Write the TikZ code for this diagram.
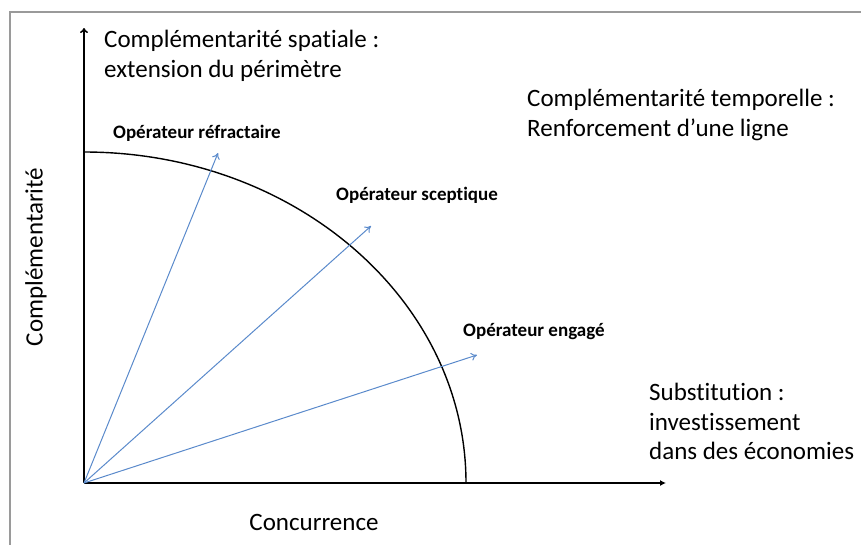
\documentclass[tikz,border=0pt]{standalone}
\usepackage{fontspec}
\setmainfont{Carlito}[Ligatures=NoCommon]
\usetikzlibrary{arrows.meta}
\definecolor{opblue}{HTML}{5A8ACB}
\definecolor{framegray}{HTML}{9A9A9A}
\tikzset{
  bigtext/.style={font=\fontsize{25}{29.5}\selectfont, inner sep=0pt, align=left},
  optext/.style={font=\bfseries\fontsize{19}{22}\selectfont, inner sep=0pt},
  oparrow/.style={draw=opblue, line width=1pt, -{To[length=6pt,width=8pt]}},
  axis/.style={draw=black, line width=1.6pt}
}
\begin{document}
\begin{tikzpicture}[x=1pt,y=-1pt]
\useasboundingbox (0,0) rectangle (861,544);
% frame
\draw[framegray, line width=2pt] (10,546) -- (10,12) -- (863,12);
% origin and ends
\coordinate (O) at (84,483);
\coordinate (ytop) at (84,28);
\coordinate (xend) at (666,483);
\coordinate (arcstart) at (84,152);
\coordinate (ref) at (218,153);
\coordinate (sce) at (371,226);
\coordinate (eng) at (477,355);
% axes
\draw[axis, -{To[length=5pt,width=8pt]}] (O) -- (ytop);
\draw[axis, -{Latex[length=6pt,width=6pt]}] (O) -- (xend);
% arc
\draw[black, line width=1.4pt] (arcstart) arc[start angle=-90, end angle=0, x radius=382, y radius=331];
% operator arrows
\draw[oparrow] (O) -- (ref);
\draw[oparrow] (O) -- (sce);
\draw[oparrow] (O) -- (eng);
% labels
\node[optext, anchor=west] (lref) at (113,133) {Opérateur réfractaire};
\node[optext, anchor=west] (lsce) at (336,195) {Opérateur sceptique};
\node[optext, anchor=west] (leng) at (463,332) {Opérateur engagé};
\node[bigtext, anchor=north west] (spat) at (104,30) {Complémentarité spatiale :\\ extension du périmètre};
\node[bigtext, anchor=north west] (temp) at (527,89) {Complémentarité temporelle :\\Renforcement d’une ligne};
\node[bigtext, anchor=north west] (subs) at (649,383) {Substitution :\\investissement\\dans des économies};
\node[bigtext, anchor=center] (conc) at (314,522) {Concurrence};
\node[bigtext, anchor=center, rotate=90] (compl) at (36,257) {Complémentarité};
\end{tikzpicture}
\end{document}
